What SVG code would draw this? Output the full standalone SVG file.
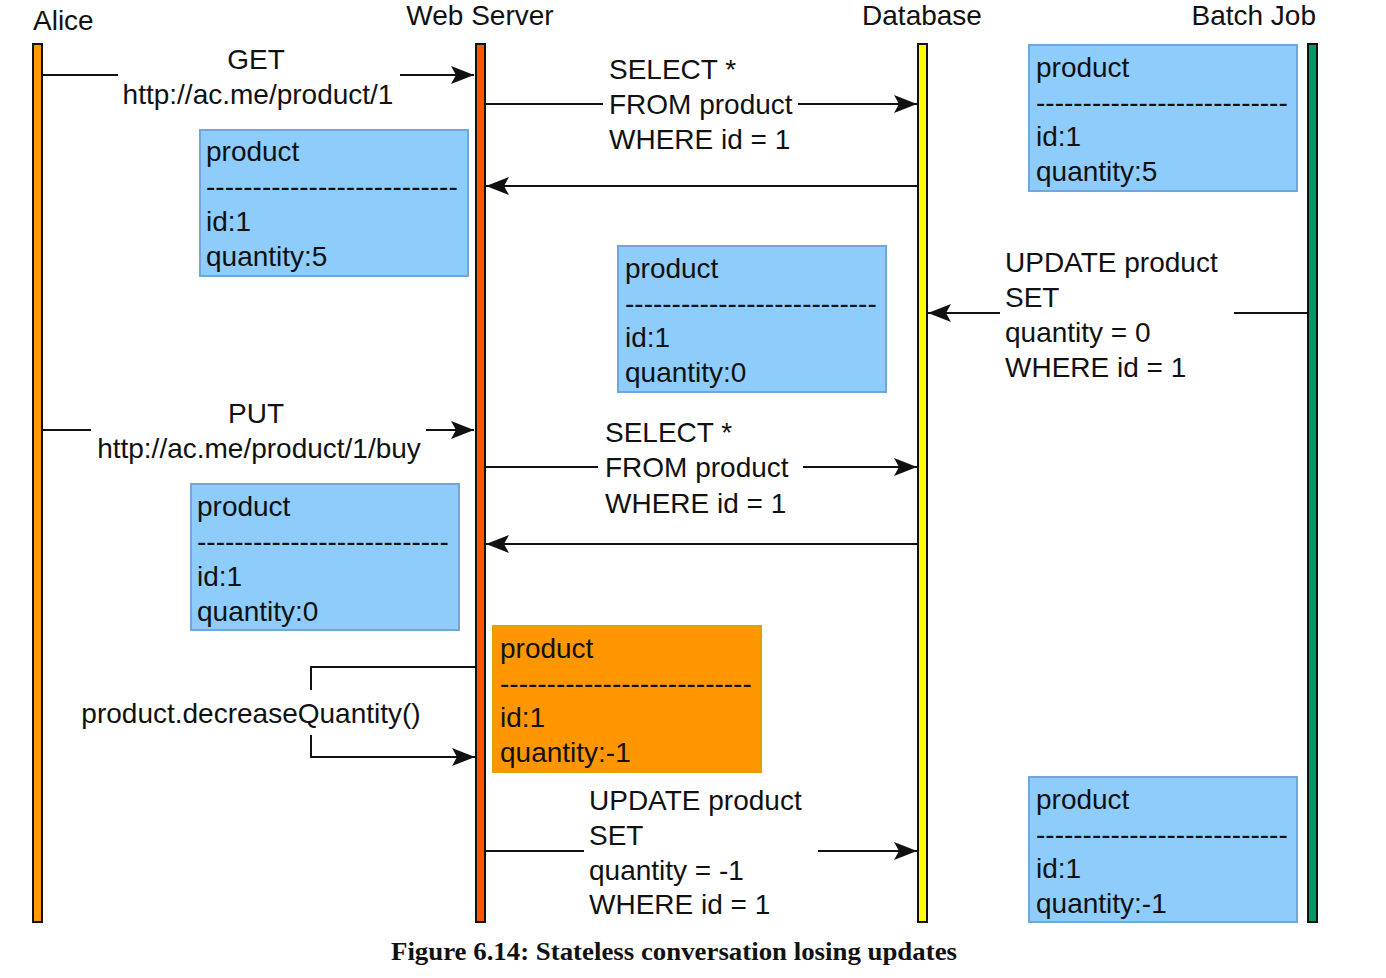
<svg xmlns="http://www.w3.org/2000/svg" width="1386" height="978" viewBox="0 0 1386 978">
<style>
  text { font-family: "Liberation Sans", Arial, sans-serif; font-size: 28px; fill: #111; }
  .life { stroke: #111; stroke-width: 2; }
  .msg { stroke: #111; stroke-width: 2; fill: none; }
  .blue { fill: #8ECCFC; stroke: #72A6DA; stroke-width: 2; }
  .orange { fill: #FF9600; stroke: #E3A000; stroke-width: 2; }
  .cap { font-family: "Liberation Serif", "Times New Roman", serif; font-weight: bold; font-size: 26px; fill: #111; }
</style>
<defs>
  <marker id="arr" markerUnits="userSpaceOnUse" markerWidth="24" markerHeight="18" refX="23" refY="9" orient="auto">
    <path d="M0,0 L23,9 L0,18 L5,9 Z" fill="#111"/>
  </marker>
</defs>
<rect width="1386" height="978" fill="#fff"/>

<g id="alice">
  <rect class="life" x="33" y="44" width="9" height="878" fill="#FF9900"/>
  <text x="33" y="30">Alice</text>
</g>
<g id="webserver">
  <rect class="life" x="476" y="44" width="9" height="878" fill="#FF5500"/>
  <text x="480" y="25" text-anchor="middle">Web Server</text>
</g>
<g id="database">
  <rect class="life" x="918" y="44" width="9" height="878" fill="#FFFF00"/>
  <text x="922" y="25" text-anchor="middle">Database</text>
</g>
<g id="batchjob">
  <rect class="life" x="1308" y="44" width="9" height="878" fill="#009966"/>
  <text x="1316" y="25" text-anchor="end">Batch Job</text>
</g>

<g id="box-ws-1">
  <rect class="blue" x="200" y="130" width="268" height="146"/>
  <text x="206" y="161">product</text>
  <text x="206" y="196">---------------------------</text>
  <text x="206" y="231">id:1</text>
  <text x="206" y="266">quantity:5</text>
</g>
<g id="box-batch-1">
  <rect class="blue" x="1029" y="45" width="268" height="146"/>
  <text x="1036" y="77">product</text>
  <text x="1036" y="112">---------------------------</text>
  <text x="1036" y="146">id:1</text>
  <text x="1036" y="181">quantity:5</text>
</g>
<g id="box-db-1">
  <rect class="blue" x="618" y="246" width="268" height="146"/>
  <text x="625" y="278">product</text>
  <text x="625" y="313">---------------------------</text>
  <text x="625" y="347">id:1</text>
  <text x="625" y="382">quantity:0</text>
</g>
<g id="box-ws-2">
  <rect class="blue" x="191" y="484" width="268" height="146"/>
  <text x="197" y="516">product</text>
  <text x="197" y="551">---------------------------</text>
  <text x="197" y="586">id:1</text>
  <text x="197" y="621">quantity:0</text>
</g>
<g id="box-ws-3">
  <rect class="orange" x="493" y="626" width="268" height="146"/>
  <text x="500" y="658">product</text>
  <text x="500" y="693">---------------------------</text>
  <text x="500" y="727">id:1</text>
  <text x="500" y="762">quantity:-1</text>
</g>
<g id="box-db-2">
  <rect class="blue" x="1029" y="777" width="268" height="145"/>
  <text x="1036" y="809">product</text>
  <text x="1036" y="844">---------------------------</text>
  <text x="1036" y="878">id:1</text>
  <text x="1036" y="913">quantity:-1</text>
</g>

<g id="connectors">
  <!-- GET -->
  <line class="msg" x1="42" y1="75" x2="118" y2="75"/>
  <line class="msg" x1="400" y1="75" x2="474" y2="75" marker-end="url(#arr)"/>
  <text x="256" y="69" text-anchor="middle">GET</text>
  <text x="258" y="104" text-anchor="middle">http://ac.me/product/1</text>

  <!-- SELECT 1 -->
  <line class="msg" x1="485" y1="104" x2="603" y2="104"/>
  <line class="msg" x1="798" y1="104" x2="917" y2="104" marker-end="url(#arr)"/>
  <text x="609" y="79">SELECT *</text>
  <text x="609" y="114">FROM product</text>
  <text x="609" y="149">WHERE id = 1</text>

  <!-- return 1 -->
  <line class="msg" x1="918" y1="186" x2="486" y2="186" marker-end="url(#arr)"/>

  <!-- batch update -->
  <line class="msg" x1="1308" y1="313" x2="1234" y2="313"/>
  <line class="msg" x1="1000" y1="313" x2="928" y2="313" marker-end="url(#arr)"/>
  <text x="1005" y="272">UPDATE product</text>
  <text x="1005" y="307">SET</text>
  <text x="1005" y="342">quantity = 0</text>
  <text x="1005" y="377">WHERE id = 1</text>

  <!-- PUT -->
  <line class="msg" x1="42" y1="430" x2="91" y2="430"/>
  <line class="msg" x1="426" y1="430" x2="474" y2="430" marker-end="url(#arr)"/>
  <text x="256" y="423" text-anchor="middle">PUT</text>
  <text x="259" y="458" text-anchor="middle">http://ac.me/product/1/buy</text>

  <!-- SELECT 2 -->
  <line class="msg" x1="485" y1="467" x2="598" y2="467"/>
  <line class="msg" x1="803" y1="467" x2="917" y2="467" marker-end="url(#arr)"/>
  <text x="605" y="442">SELECT *</text>
  <text x="605" y="477">FROM product</text>
  <text x="605" y="513">WHERE id = 1</text>

  <!-- return 2 -->
  <line class="msg" x1="918" y1="544" x2="486" y2="544" marker-end="url(#arr)"/>

  <!-- self call -->
  <polyline class="msg" points="476,667 311,667 311,690"/>
  <polyline class="msg" points="311,735 311,757 475,757" marker-end="url(#arr)"/>
  <text x="251" y="723" text-anchor="middle">product.decreaseQuantity()</text>

  <!-- UPDATE 2 -->
  <line class="msg" x1="485" y1="851" x2="584" y2="851"/>
  <line class="msg" x1="818" y1="851" x2="917" y2="851" marker-end="url(#arr)"/>
  <text x="589" y="810">UPDATE product</text>
  <text x="589" y="845">SET</text>
  <text x="589" y="880">quantity = -1</text>
  <text x="589" y="914">WHERE id = 1</text>
</g>

<text class="cap" x="674" y="960" text-anchor="middle" textLength="566" lengthAdjust="spacingAndGlyphs">Figure 6.14: Stateless conversation losing updates</text>
</svg>
